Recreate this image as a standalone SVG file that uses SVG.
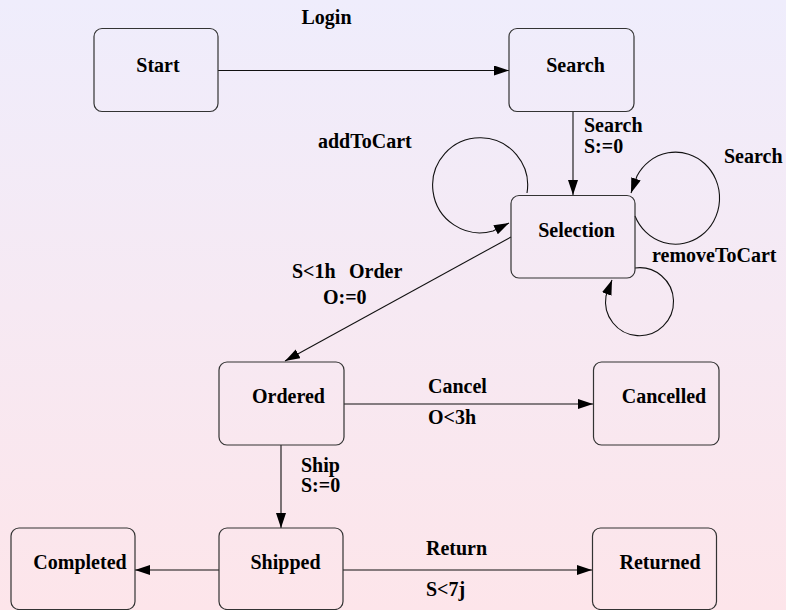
<svg xmlns="http://www.w3.org/2000/svg" width="786" height="610" viewBox="0 0 786 610">
<defs>
<linearGradient id="bg" x1="0" y1="0" x2="0" y2="1">
<stop offset="0" stop-color="#efedfc"/>
<stop offset="1" stop-color="#fde5ea"/>
</linearGradient>
<marker id="ah" markerUnits="userSpaceOnUse" markerWidth="16" markerHeight="12" refX="15" refY="5" orient="auto">
<path d="M0,0 L15,5 L0,10 z" fill="#000"/>
</marker>
<style>
.box{fill:none;stroke:#333;stroke-width:1.2}
.lbl{font-family:"Liberation Serif","Times New Roman",serif;font-weight:bold;font-size:20px;fill:#000}
.nl{font-family:"Liberation Serif","Times New Roman",serif;font-weight:bold;font-size:20px;fill:#000;text-anchor:middle}
.e{fill:none;stroke:#111;stroke-width:1.1;marker-end:url(#ah)}
</style>
</defs>
<rect x="0" y="0" width="786" height="610" fill="url(#bg)"/>
<g id="connectors">
<path class="e" d="M218,70.5 L509,70.5"/>
<path class="e" d="M573,112 L573,195"/>
<path class="e" d="M527,193 A47.5,47.5 0 1,0 493,231 L509,223"/>
<path class="e" d="M635,216 A44,46 0 1,0 637,176 L631,193"/>
<path class="e" d="M635,268 A34,34 0 1,1 606,296 L612,280"/>
<path class="e" d="M511,237 L285,361"/>
<path class="e" d="M344,404 L593,404"/>
<path class="e" d="M281,445 L281,528"/>
<path class="e" d="M219,570 L135,570"/>
<path class="e" d="M343,570 L592,570"/>
</g>
<g id="labels">
<text class="lbl" x="301.5" y="24">Login</text>
<text class="lbl" x="584" y="132">Search</text>
<text class="lbl" x="584" y="153">S:=0</text>
<text class="lbl" x="318" y="148">addToCart</text>
<text class="lbl" x="724" y="163">Search</text>
<text class="lbl" x="652" y="262">removeToCart</text>
<text class="lbl" x="292" y="278">S&lt;1h<tspan x="349">Order</tspan></text>
<text class="lbl" x="323" y="304">O:=0</text>
<text class="lbl" x="428" y="393">Cancel</text>
<text class="lbl" x="428" y="424">O&lt;3h</text>
<text class="lbl" x="301" y="472">Ship</text>
<text class="lbl" x="301" y="492">S:=0</text>
<text class="lbl" x="426" y="555">Return</text>
<text class="lbl" x="426" y="596">S&lt;7j</text>
</g>
<g id="start"><rect class="box" x="94" y="28.5" width="124" height="83" rx="8"/><text class="nl" x="158" y="71.5">Start</text></g>
<g id="search"><rect class="box" x="509" y="28.5" width="125" height="83" rx="8"/><text class="nl" x="575.5" y="71.5">Search</text></g>
<g id="selection"><rect class="box" x="511" y="195.5" width="124" height="82.5" rx="8"/><text class="nl" x="576.5" y="237">Selection</text></g>
<g id="ordered"><rect class="box" x="219" y="362" width="125" height="83" rx="8"/><text class="nl" x="288.5" y="403">Ordered</text></g>
<g id="cancelled"><rect class="box" x="593.5" y="362" width="125.5" height="83" rx="8"/><text class="nl" x="664" y="403">Cancelled</text></g>
<g id="completed"><rect class="box" x="11" y="528" width="124" height="81.5" rx="8"/><text class="nl" x="80" y="569">Completed</text></g>
<g id="shipped"><rect class="box" x="219" y="528" width="124" height="81.5" rx="8"/><text class="nl" x="285.5" y="569">Shipped</text></g>
<g id="returned"><rect class="box" x="592.5" y="528" width="124" height="81.5" rx="8"/><text class="nl" x="660" y="569">Returned</text></g>
</svg>
